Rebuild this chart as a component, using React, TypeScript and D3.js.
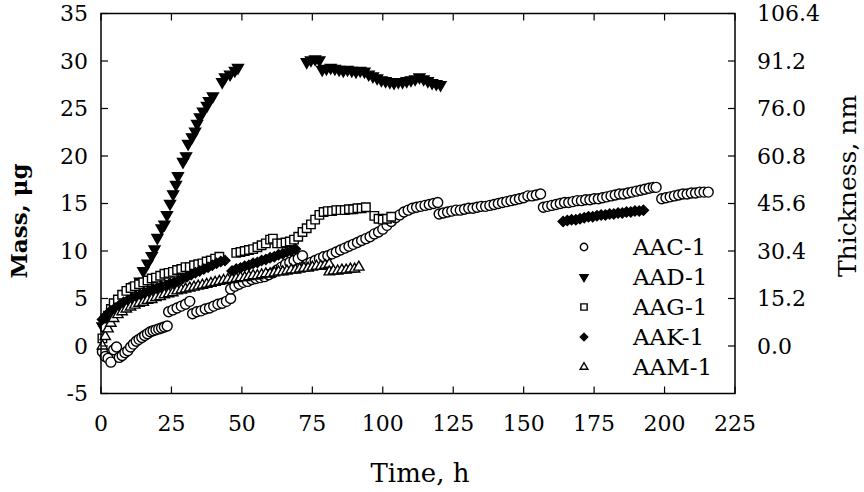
import React from "react";
import * as d3 from "d3";

// time (h), mass (µg)
const aac1: [number, number][] = [
  [0.5, -0.6], [1.5, -1.1], [2.5, -1.3], [3.5, -1.7], [4.5, -0.4], [5.5, -0.1], [6.5, -1.2], [7.5, -1.0],
  [8.5, -0.7], [9.5, -0.5], [10.5, -0.1], [11.5, 0.2], [12.5, 0.5], [13.5, 0.7], [14.5, 0.9], [15.5, 1.1],
  [16.5, 1.3], [17.5, 1.5], [18.5, 1.6], [19.5, 1.7], [20.5, 1.8], [21.5, 1.9], [22.5, 2.0], [23.5, 2.1],
  [24, 3.6], [25.5, 3.8], [27, 4.0], [28.5, 4.2], [30, 4.4], [31.5, 4.7],
  [32.5, 3.4], [34, 3.6], [35.5, 3.7], [37, 3.9], [38.5, 4.0], [40, 4.2], [41.5, 4.4], [43, 4.5], [44.5, 4.7], [46, 5.0],
  [46, 6.0], [47.5, 6.3], [49, 6.5], [50.5, 6.7], [52, 6.8], [53.5, 7.0], [55, 7.1], [56.5, 7.2], [58, 7.3],
  [59.5, 7.5], [61, 7.7], [62.5, 8.0], [64, 8.3], [65.5, 8.6], [67, 8.8], [68.5, 9.0], [70, 9.2], [71.5, 9.5],
  [73, 8.6], [74.5, 8.8], [76, 9.0], [77.5, 9.2], [79, 9.4], [80.5, 9.5], [82, 9.7], [83.5, 9.9], [85, 10.1],
  [86.5, 10.3], [88, 10.5], [89.5, 10.7], [91, 10.9], [92.5, 11.1], [94, 11.3], [95.5, 11.5], [97, 11.8],
  [98.5, 12.0], [100, 12.3], [101.5, 12.7], [103, 13.1], [104.5, 13.5], [106, 13.8], [107.5, 14.1], [109, 14.3],
  [110.5, 14.5], [112, 14.6], [113.5, 14.7], [115, 14.8], [116.5, 14.9], [118, 15.0], [119.5, 15.1],
  [120, 13.9], [121.5, 14.0], [123, 14.1], [124.5, 14.2], [126, 14.3], [127.5, 14.3], [129, 14.4], [130.5, 14.5],
  [132, 14.5], [133.5, 14.6], [135, 14.7], [136.5, 14.7], [138, 14.8], [139.5, 14.9], [141, 15.0], [142.5, 15.1],
  [144, 15.2], [145.5, 15.3], [147, 15.4], [148.5, 15.5], [150, 15.6], [151.5, 15.8], [153, 15.8], [154.5, 15.9], [156, 16.0],
  [157, 14.6], [158.5, 14.7], [160, 14.8], [161.5, 14.9], [163, 15.0], [164.5, 15.1], [166, 15.1], [167.5, 15.2],
  [169, 15.3], [170.5, 15.3], [172, 15.4], [173.5, 15.4], [175, 15.5], [176.5, 15.5], [178, 15.6], [179.5, 15.7],
  [181, 15.8], [182.5, 15.9], [184, 16.0], [185.5, 16.0], [187, 16.1], [188.5, 16.2], [190, 16.3], [191.5, 16.4],
  [193, 16.5], [194.5, 16.6], [196, 16.7], [197, 16.7],
  [199, 15.5], [200.5, 15.6], [202, 15.7], [203.5, 15.8], [205, 15.9], [206.5, 16.0], [208, 16.0], [209.5, 16.1],
  [211, 16.1], [212.5, 16.2], [214, 16.2], [215.5, 16.2],
];

const aad1: [number, number][] = [
  [0.5, 2.1], [2, 3.0], [4, 3.6], [6, 4.2], [8, 4.9], [10, 5.6], [12, 6.3], [13.8, 6.8], [15, 7.9], [16.5, 8.7],
  [18, 9.5], [19, 10.2], [20, 11.4], [21.5, 12.4], [22.5, 12.8], [23.4, 13.8], [24.5, 15.0], [25.6, 16.0],
  [26.6, 17.0], [27.3, 17.9], [29.1, 19.4], [30.2, 20.0], [30.9, 21.3], [32.3, 22.0], [33.4, 22.6], [34.1, 23.4],
  [35.1, 24.1], [36.2, 24.7], [37.6, 25.3], [38.3, 25.8], [39.7, 26.3], [43, 27.8], [44, 28.3], [45.8, 28.6],
  [47.5, 29.0], [48.6, 29.3],
  [73, 29.9], [74.5, 30.1], [76, 30.2], [77.5, 30.1], [78.5, 29.1], [80, 29.2], [81.5, 29.3], [83, 29.2],
  [84.5, 29.1], [86, 29.0], [87.5, 29.1], [89, 29.0], [90.5, 28.9], [92, 29.0], [93.5, 28.9], [95, 28.6],
  [96.5, 28.4], [98, 28.2], [99.5, 28.0], [101, 27.9], [102.5, 27.8], [104, 27.7], [105.5, 27.8], [107, 27.8],
  [108.5, 27.9], [110, 28.0], [111.5, 28.1], [113, 28.3], [114.5, 28.1], [116, 27.9], [117.5, 27.7], [119, 27.6], [120.5, 27.5],
];

const aag1: [number, number][] = [
  [0.5, 0.8], [1.5, 2.0], [2.5, 3.2], [3.5, 3.9], [4.5, 4.5], [6, 4.9], [7.5, 5.4], [9, 5.8], [10.5, 6.1],
  [12, 6.3], [13.5, 6.5], [15, 6.7], [16.5, 6.9], [18, 7.1], [19.5, 7.2], [21, 7.4], [22.5, 7.6], [24, 7.7],
  [25.5, 7.8], [27, 8.0], [28.5, 8.1], [30, 8.3], [31.5, 8.3], [33, 8.5], [34.5, 8.6], [36, 8.7], [37.5, 8.9],
  [39, 9.0], [40.5, 9.2], [42, 9.4],
  [48, 9.8], [49.5, 9.9], [51, 10.0], [52.5, 10.1], [54, 10.2], [55.5, 10.4], [57, 10.6], [58.5, 10.8], [60, 11.2],
  [61, 11.3], [62.5, 10.8], [64, 10.8], [65.5, 10.9], [67, 11.0], [68.5, 11.2], [70, 11.5], [71.5, 12.0], [73, 12.4],
  [74.5, 12.8], [76, 13.3], [77.5, 13.8], [79, 14.1], [80.5, 14.2], [82, 14.2], [83.5, 14.3], [85, 14.3], [86.5, 14.3],
  [88, 14.4], [89.5, 14.4], [91, 14.5], [92.5, 14.5], [94, 14.6],
  [97, 13.7], [98.5, 13.4], [100, 13.3], [101.5, 13.4], [103, 13.6],
];

const aak1: [number, number][] = [
  [0.5, 2.8], [1.5, 3.1], [2.5, 3.4], [3.5, 3.7], [5, 4.0], [6.5, 4.3], [8, 4.6], [9.5, 4.8], [11, 5.0],
  [12.5, 5.2], [14, 5.4], [15.5, 5.6], [17, 5.8], [18.5, 6.0], [20, 6.1], [21.5, 6.3], [23, 6.4], [24.5, 6.6],
  [26, 6.7], [27.5, 6.9], [29, 7.1], [30.5, 7.3], [32, 7.5], [33.5, 7.7], [35, 7.9], [36.5, 8.1], [38, 8.3],
  [39.5, 8.5], [41, 8.7], [42.5, 8.9], [44, 9.0],
  [46.5, 7.9], [48, 8.1], [49.5, 8.2], [51, 8.4], [52.5, 8.5], [54, 8.7], [55.5, 8.8], [57, 9.0], [58.5, 9.1],
  [60, 9.3], [61.5, 9.4], [63, 9.6], [64.5, 9.7], [66, 9.9], [67.5, 10.0], [69, 10.2],
  [164, 13.1], [165.5, 13.2], [167, 13.3], [168.5, 13.3], [170, 13.4], [171.5, 13.5], [173, 13.6], [174.5, 13.6],
  [176, 13.7], [177.5, 13.8], [179, 13.8], [180.5, 13.9], [182, 13.9], [183.5, 14.0], [185, 14.0], [186.5, 14.1],
  [188, 14.1], [189.5, 14.2], [191, 14.2], [192.5, 14.3],
];

const aam1: [number, number][] = [
  [0.5, 0.0], [1.5, 1.0], [2.5, 1.8], [3.5, 2.4], [4.5, 2.9], [6, 3.3], [7.5, 3.6], [9, 3.9], [10.5, 4.1],
  [12, 4.3], [13.5, 4.5], [15, 4.6], [16.5, 4.8], [18, 4.9], [19.5, 5.1], [21, 5.2], [22.5, 5.4], [24, 5.5],
  [25.5, 5.6], [27, 5.8], [28.5, 5.9], [30, 6.0], [31.5, 6.1], [33, 6.2], [34.5, 6.3], [36, 6.4], [37.5, 6.5],
  [39, 6.6], [40.5, 6.7], [42, 6.8], [43.5, 6.9], [45, 7.0], [46.5, 7.0], [48, 7.1], [49.5, 7.2], [51, 7.2],
  [52.5, 7.3], [54, 7.4], [55.5, 7.4], [57, 7.5], [58.5, 7.6], [60, 7.6], [61.5, 7.7], [63, 7.8], [64.5, 7.8],
  [66, 7.9], [67.5, 8.0], [69, 8.0], [70.5, 8.1], [72, 8.2], [73.5, 8.2], [75, 8.3], [76.5, 8.4], [78, 8.4],
  [79.5, 8.5], [81, 8.6],
  [81, 7.8], [82.5, 7.9], [84, 7.9], [85.5, 8.0], [87, 8.0], [88.5, 8.1], [90, 8.1], [91.5, 8.3],
];

const xTicks = [0, 25, 50, 75, 100, 125, 150, 175, 200, 225];
const yTicks = [-5, 0, 5, 10, 15, 20, 25, 30, 35];
const thickTicks = [0, 5, 10, 15, 20, 25, 30, 35]; // mass positions of thickness labels
const nmPerUg = 3.04;

type Mark = "circle" | "tdown" | "square" | "diamond" | "tup";
const series: { name: string; data: [number, number][]; mark: Mark }[] = [
  { name: "AAC-1", data: aac1, mark: "circle" },
  { name: "AAD-1", data: aad1, mark: "tdown" },
  { name: "AAG-1", data: aag1, mark: "square" },
  { name: "AAK-1", data: aak1, mark: "diamond" },
  { name: "AAM-1", data: aam1, mark: "tup" },
];

const W = 864, H = 492;
const left = 101, right = 735, top = 13.5, bottom = 393.5;
const font = "DejaVu Serif";

const x = d3.scaleLinear().domain([0, 225]).range([left, right]);
const y = d3.scaleLinear().domain([-5, 35]).range([bottom, top]);

function markPath(mark: Mark, k: number) {
  if (mark === "circle") return d3.symbol(d3.symbolCircle, 78 * k)()!;
  if (mark === "square") return d3.symbol(d3.symbolSquare, 72 * k)()!;
  if (mark === "diamond") return d3.symbol(d3.symbolSquare, 50 * k)()!;
  if (mark === "tdown") return d3.symbol(d3.symbolTriangle, 52 * k)()!;
  return d3.symbol(d3.symbolTriangle, 46 * k)()!;
}

function markAttrs(mark: Mark) {
  const filled = mark === "tdown" || mark === "diamond";
  const rot = mark === "tdown" ? 180 : mark === "diamond" ? 45 : 0;
  return { fill: filled ? "#000" : "#fff", rot };
}

function Marker({ mark, cx, cy, k }: { mark: Mark; cx: number; cy: number; k: number }) {
  const a = markAttrs(mark);
  return (
    <path
      d={markPath(mark, k)}
      transform={`translate(${cx},${cy}) rotate(${a.rot})`}
      fill={a.fill}
      stroke="#000"
      strokeWidth={1.4}
    />
  );
}

export default function App() {
  const tickLen = 7;
  return (
    <svg width={W} height={H} style={{ position: "absolute", left: 0, top: 0, background: "#fff" }} fontFamily={font}>
      <rect x={0} y={0} width={W} height={H} fill="#fff" />
      {/* data */}
      {series.map((s) => (
        <g key={s.name}>
          {s.data.map((d, i) => (
            <Marker key={i} mark={s.mark} cx={x(d[0])} cy={y(d[1])} k={1} />
          ))}
        </g>
      ))}

      {/* frame */}
      <rect x={left} y={top} width={right - left} height={bottom - top} fill="none" stroke="#000" strokeWidth={1.5} />

      {/* x ticks, bottom and top, inward */}
      {xTicks.map((t) => (
        <g key={"x" + t}>
          <line x1={x(t)} x2={x(t)} y1={bottom} y2={bottom - tickLen} stroke="#000" strokeWidth={1.2} />
          <line x1={x(t)} x2={x(t)} y1={top} y2={top + tickLen} stroke="#000" strokeWidth={1.2} />
          <text x={x(t)} y={431} textAnchor="middle" fontSize={22} fill="#000">
            {t}
          </text>
        </g>
      ))}

      {/* y ticks left */}
      {yTicks.map((t) => (
        <g key={"y" + t}>
          <line x1={left} x2={left + tickLen} y1={y(t)} y2={y(t)} stroke="#000" strokeWidth={1.2} />
          <text x={88} y={y(t)} dy="0.36em" textAnchor="end" fontSize={22} fill="#000">
            {t}
          </text>
        </g>
      ))}

      {/* thickness axis right */}
      {thickTicks.map((t) => (
        <g key={"r" + t}>
          <line x1={right} x2={right - tickLen} y1={y(t)} y2={y(t)} stroke="#000" strokeWidth={1.2} />
          <text x={757} y={y(t)} dy="0.36em" textAnchor="start" fontSize={22} fill="#000">
            {d3.format(".1f")(t * nmPerUg)}
          </text>
        </g>
      ))}

      {/* axis titles */}
      <text transform="translate(27,221) rotate(-90)" textAnchor="middle" fontSize={23} fontWeight="bold" fill="#000">
        Mass, μg
      </text>
      <text x={420} y={482} textAnchor="middle" fontSize={26} fill="#000">
        Time, h
      </text>
      <text transform="translate(856,186) rotate(-90)" textAnchor="middle" fontSize={25} fill="#000">
        Thickness, nm
      </text>

      {/* legend */}
      {series.map((s, i) => (
        <g key={"l" + s.name}>
          <Marker mark={s.mark} cx={584} cy={247 + i * 30} k={0.55} />
          <text x={633} y={247 + i * 30} dy="0.36em" fontSize={23} fill="#000">
            {s.name}
          </text>
        </g>
      ))}
    </svg>
  );
}
